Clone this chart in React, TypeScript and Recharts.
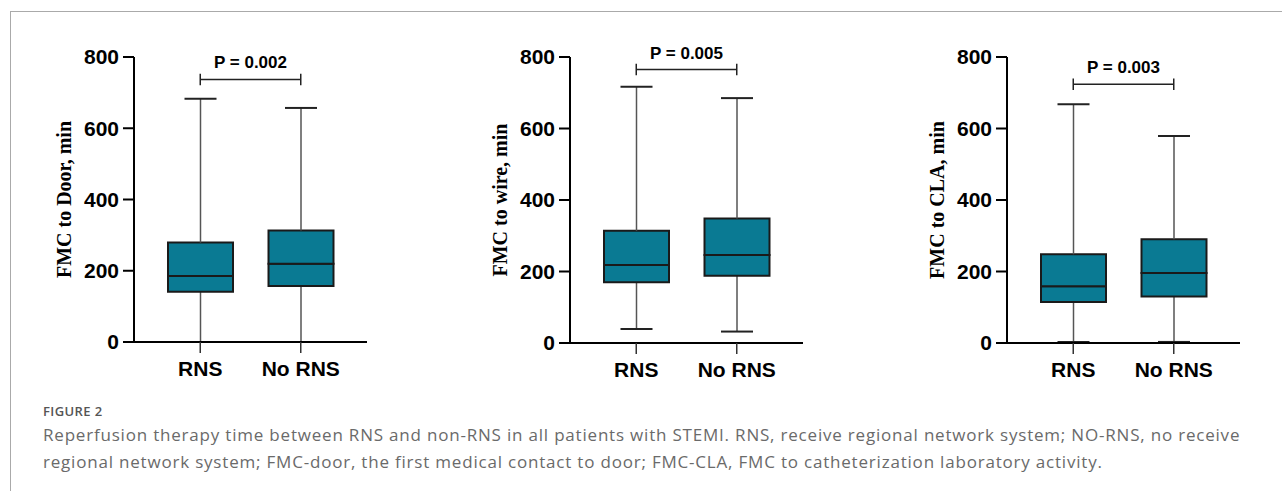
import React from "react";
import {
  ComposedChart,
  Bar,
  XAxis,
  YAxis,
  ReferenceLine,
} from "recharts";

const categories = ["RNS", "No RNS"];
const yTicks = [0, 200, 400, 600, 800];

// FMC to door
const doorMin = [0, 0];
const doorQ1 = [141, 157];
const doorMedian = [185, 220];
const doorQ3 = [279, 313];
const doorMax = [683, 657];

// FMC to wire
const wireMin = [39, 32];
const wireQ1 = [170, 188];
const wireMedian = [218, 246];
const wireQ3 = [314, 348];
const wireMax = [717, 685];

// FMC to CLA
const claMin = [3, 3];
const claQ1 = [115, 130];
const claMedian = [159, 196];
const claQ3 = [248, 290];
const claMax = [668, 579];

const yLabels = ["FMC to Door, min", "FMC to wire, min", "FMC to CLA, min"];
const pLabels = ["P = 0.002", "P = 0.005", "P = 0.003"];
const bracketLevels = [737, 765, 724];

const BOX_FILL = "#0a7a93";
const SANS = '"Liberation Sans", Arial, sans-serif';
const SERIF = '"Liberation Serif", "Times New Roman", serif';

function buildRows(min: number[], q1: number[], med: number[], q3: number[], max: number[]) {
  return categories.map((cat, i) => ({
    cat,
    base: min[i],
    lowWhisker: q1[i] - min[i],
    lowBox: med[i] - q1[i],
    highBox: q3[i] - med[i],
    highWhisker: max[i] - q3[i],
  }));
}

const panels = [
  { rows: buildRows(doorMin, doorQ1, doorMedian, doorQ3, doorMax), axisX: 134, bottom: 342 },
  { rows: buildRows(wireMin, wireQ1, wireMedian, wireQ3, wireMax), axisX: 570, bottom: 343 },
  { rows: buildRows(claMin, claQ1, claMedian, claQ3, claMax), axisX: 1007, bottom: 343 },
];

const CAP = 16;

const LowWhisker = (props: any) => {
  const { x, y, width, height } = props;
  const cx = x + width / 2;
  return (
    <g>
      <line x1={cx} x2={cx} y1={y} y2={y + height} stroke="#555" strokeWidth={1.5} />
      <line x1={cx - CAP} x2={cx + CAP} y1={y + height} y2={y + height} stroke="#222" strokeWidth={2} />
    </g>
  );
};

const HighWhisker = (props: any) => {
  const { x, y, width, height } = props;
  const cx = x + width / 2;
  return (
    <g>
      <line x1={cx} x2={cx} y1={y} y2={y + height} stroke="#555" strokeWidth={1.5} />
      <line x1={cx - CAP} x2={cx + CAP} y1={y} y2={y} stroke="#222" strokeWidth={2} />
    </g>
  );
};

function Panel({ idx }: { idx: number }) {
  const { rows, axisX, bottom } = panels[idx];
  const top = 57;
  const plotWidth = 233;
  const left = axisX - 134;
  const width = 134 + plotWidth + 8;
  const height = bottom + 40;
  const level = bracketLevels[idx];

  return (
    <div style={{ position: "absolute", left, top: 0 }}>
      <ComposedChart
        width={width}
        height={height}
        data={rows}
        margin={{ top, right: 8, left: 0, bottom: 0 }}
        barCategoryGap={0}
      >
        <XAxis
          dataKey="cat"
          padding={{ left: 16, right: 16 }}
          height={40}
          axisLine={{ stroke: "#000", strokeWidth: 2 }}
          tickLine={{ stroke: "#333", strokeWidth: 1.5 }}
          tickSize={11}
          tickMargin={8}
          tick={{ fill: "#000", fontSize: 21, fontWeight: "bold", fontFamily: SANS }}
        />
        <YAxis
          width={134}
          domain={[0, 800]}
          ticks={yTicks}
          axisLine={{ stroke: "#000", strokeWidth: 2 }}
          tickLine={{ stroke: "#000", strokeWidth: 2 }}
          tickSize={11}
          tickMargin={4}
          tick={{ fill: "#000", fontSize: 21, fontWeight: "bold", fontFamily: SANS }}
          label={{
            content: ({ viewBox }: any) => {
              const cx = viewBox.x + viewBox.width - 70;
              const cy = viewBox.y + viewBox.height / 2;
              return (
                <text
                  x={cx}
                  y={cy}
                  transform={`rotate(-90, ${cx}, ${cy})`}
                  textAnchor="middle"
                  dominantBaseline="central"
                  fontFamily={SERIF}
                  fontWeight="bold"
                  fontSize={20}
                  fill="#000"
                >
                  {yLabels[idx]}
                </text>
              );
            },
          }}
        />
        <Bar dataKey="base" stackId="b" fill="transparent" barSize={65} isAnimationActive={false} />
        <Bar dataKey="lowWhisker" stackId="b" barSize={65} shape={LowWhisker} isAnimationActive={false} />
        <Bar dataKey="lowBox" stackId="b" barSize={65} fill={BOX_FILL} stroke="#1a1a1a" strokeWidth={2} isAnimationActive={false} />
        <Bar dataKey="highBox" stackId="b" barSize={65} fill={BOX_FILL} stroke="#1a1a1a" strokeWidth={2} isAnimationActive={false} />
        <Bar dataKey="highWhisker" stackId="b" barSize={65} shape={HighWhisker} isAnimationActive={false} />
        <ReferenceLine
          segment={[{ x: categories[0], y: level }, { x: categories[1], y: level }]}
          stroke="#222"
          strokeWidth={1.5}
          label={{
            content: ({ viewBox }: any) => (
              <text
                x={viewBox.x + viewBox.width / 2}
                y={viewBox.y - 11}
                textAnchor="middle"
                fontFamily={SANS}
                fontWeight="bold"
                fontSize={17}
                fill="#000"
              >
                {pLabels[idx]}
              </text>
            ),
          }}
        />
        {categories.map((c) => (
          <ReferenceLine
            key={c}
            segment={[{ x: c, y: level - 16 }, { x: c, y: level + 16 }]}
            stroke="#222"
            strokeWidth={1.5}
          />
        ))}
      </ComposedChart>
    </div>
  );
}

export default function App() {
  return (
    <div style={{ position: "absolute", left: 0, top: 0, width: 1282, height: 493, background: "#fff", overflow: "hidden" }}>
      <div
        style={{
          position: "absolute",
          left: 10,
          top: 11,
          width: 1290,
          height: 479,
          borderTop: "1.5px solid #aaa",
          borderLeft: "1.5px solid #aaa",
        }}
      />
      <Panel idx={0} />
      <Panel idx={1} />
      <Panel idx={2} />
      <div
        style={{
          position: "absolute",
          left: 43,
          top: 403,
          fontFamily: '"Open Sans", sans-serif',
          fontWeight: 600,
          fontSize: 13,
          letterSpacing: 0.4,
          lineHeight: "17px",
          color: "#555",
        }}
      >
        FIGURE 2
      </div>
      <div
        style={{
          position: "absolute",
          left: 43,
          top: 421,
          width: 1235,
          whiteSpace: "nowrap",
          fontFamily: '"Open Sans", sans-serif',
          fontSize: 17,
          letterSpacing: 0.8,
          lineHeight: "27px",
          color: "#6a6a6a",
        }}
      >
        Reperfusion therapy time between RNS and non-RNS in all patients with STEMI. RNS, receive regional network system; NO-RNS, no receive
        <br />
        regional network system; FMC-door, the first medical contact to door; FMC-CLA, FMC to catheterization laboratory activity.
      </div>
    </div>
  );
}
